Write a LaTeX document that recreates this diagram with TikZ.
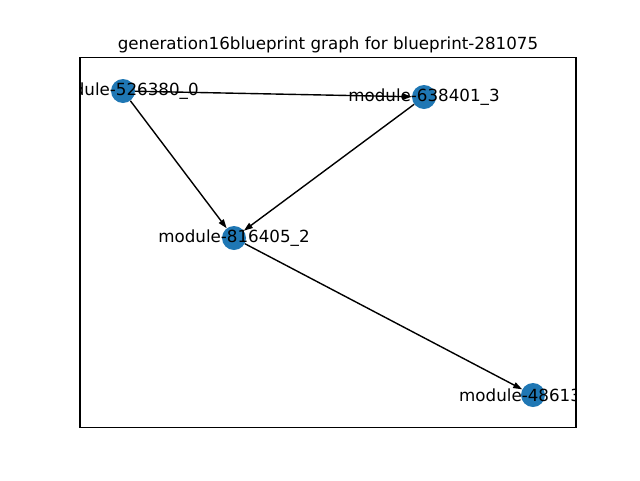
\documentclass[tikz,border=0pt]{standalone}
\usepackage{fontspec}
\setmainfont{DejaVu Sans}
\usetikzlibrary{arrows.meta}

\tikzset{
  dot/.style={circle,fill={rgb,255:red,31;green,119;blue,180},draw=none,minimum size=24pt,inner sep=0pt},
  modlabel/.style={inner sep=0pt,font=\fontsize{16.7}{18}\selectfont},
  edge/.style={line width=1.4pt,-{Triangle[length=9pt,width=6pt]}}
}

\begin{document}
\begin{tikzpicture}[x=1pt,y=-1pt]
        \useasboundingbox (0,0) rectangle (640,480);

        \node[modlabel,anchor=base] (title) at (328,49) {generation16blueprint graph for blueprint-281075};

        \begin{scope}
        \clip (80,57.6) rectangle (576,427.2);

        \node[dot] (a) at (123,91) {};
        \node[dot] (b) at (424,97) {};
        \node[dot] (c) at (234,238) {};
        \node[dot] (d) at (533,395) {};

        \draw[edge] (a) -- (b);
        \draw[edge] (a) -- (c);
        \draw[edge] (b) -- (c);
        \draw[edge] (c) -- (d);

        \node[modlabel] (la) at (a) {module-526380\_0};
        \node[modlabel] (lb) at (b) {module-638401\_3};
        \node[modlabel] (lc) at (c) {module-816405\_2};
        \node[modlabel,anchor=west] (ld) at (459,395) {module-48613};
        \end{scope}

        \draw[line width=1.1pt] (80,57.6) rectangle (576,427.2);
\end{tikzpicture}
\end{document}
